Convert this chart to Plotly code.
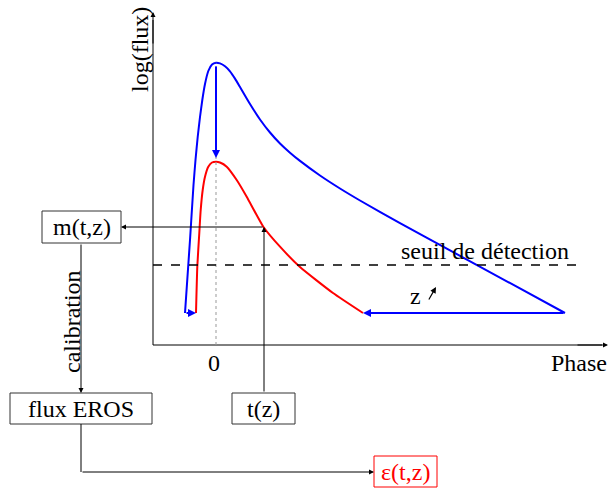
import plotly.graph_objects as go

# light curves: phase (days) vs log(flux) (arbitrary units)
phase_near = [-15.5, -13, -11.25, -10.25, -9.15, -8, -6.85, -5.5, -3.85, -2, 0, 2, 4.5, 7, 9.5,
              12, 17, 22, 27, 32, 37, 42, 52, 62, 72, 92, 117, 174.5]
logflux_near = [3.2, 10.5, 16.0, 18.5, 20.8, 22.8, 24.5, 26.1, 27.4, 28.05, 28.23, 28.16, 27.87, 27.37, 26.64,
                25.8, 24.1, 22.55, 21.25, 20.15, 19.23, 18.41, 16.95, 15.65, 14.45, 12.19, 9.46, 3.2]

phase_far = [-10, -9.35, -8.35, -7.65, -6.65, -5.5, -3.85, -2, 0, 2, 5.35, 10.35, 15.35, 23.65,
             32, 42, 58.5, 73.5]
logflux_far = [3.2, 7.83, 11.2, 13.5, 15.5, 16.83, 17.83, 18.25, 18.33, 18.25, 17.83, 16.5, 14.83, 11.83,
               9.83, 7.8, 5.2, 3.2]

threshold = 8
axis_x0, axis_x1 = -31.5, 196
axis_y1 = 33.3

# flow-chart boxes
box_labels = ["m(t,z)", "flux EROS", "t(z)", "ε(t,z)"]
box_x0 = [-87, -103, 8, 79]
box_x1 = [-47.5, -32, 39.5, 110.5]
box_y0 = [10.2, -7.9, -7.9, -14.2]
box_y1 = [13.4, -4.8, -4.8, -11.1]
box_colors = ["black", "black", "black", "red"]

FONT = "Liberation Serif"
FS = 24
BLUE = "#0000ff"
RED = "#ff0000"

fig = go.Figure()

fig.add_trace(go.Scatter(x=phase_near, y=logflux_near, mode="lines",
                         line=dict(color=BLUE, width=2, shape="spline", smoothing=0.5),
                         hoverinfo="skip"))
fig.add_trace(go.Scatter(x=phase_far, y=logflux_far, mode="lines",
                         line=dict(color=RED, width=2, shape="spline", smoothing=0.5),
                         hoverinfo="skip"))

shapes = []
# axes
shapes.append(dict(type="line", x0=axis_x0, x1=axis_x0, y0=0, y1=axis_y1 - 0.8,
                   line=dict(color="black", width=1)))
shapes.append(dict(type="line", x0=axis_x0, x1=axis_x1 - 3, y0=0, y1=0,
                   line=dict(color="black", width=1)))
# peak phase marker
shapes.append(dict(type="line", x0=0, x1=0, y0=0, y1=max(logflux_near),
                   line=dict(color="#999999", width=1, dash="dot")))
# detection threshold
shapes.append(dict(type="line", x0=axis_x0, x1=180.5, y0=threshold, y1=threshold,
                   line=dict(color="black", width=1.5, dash="dash")))
# boxes
for lab, a, b, c, d, col in zip(box_labels, box_x0, box_x1, box_y0, box_y1, box_colors):
    shapes.append(dict(type="rect", x0=a, x1=b, y0=c, y1=d,
                       line=dict(color=col if col == "red" else "#333333", width=1)))
# connector line without head
shapes.append(dict(type="line", x0=-67.5, x1=-67.5, y0=-7.9, y1=-12.7, line=dict(color="black", width=1)))

annotations = []
for lab, a, b, c, d, col in zip(box_labels, box_x0, box_x1, box_y0, box_y1, box_colors):
    annotations.append(dict(x=(a + b) / 2, y=(c + d) / 2, text=lab, showarrow=False,
                            font=dict(family=FONT, size=FS, color=col)))


def arrow(x_tail, y_tail, x_head, y_head, color="black", width=1, size=1.0):
    annotations.append(dict(x=x_head, y=y_head, ax=x_tail, ay=y_tail,
                            xref="x", yref="y", axref="x", ayref="y",
                            text="", showarrow=True, arrowhead=2, arrowsize=size,
                            arrowwidth=width, arrowcolor=color, standoff=0, startstandoff=0))


# axis arrowheads
arrow(axis_x0, 30, axis_x0, axis_y1)
arrow(180, 0, axis_x1, 0)
# blue arrows
arrow(0, 28.0, 0, 18.7, BLUE, 2, 0.8)
arrow(-15.5, 3.2, -10, 3.2, BLUE, 2, 0.8)
arrow(174.5, 3.2, 73.5, 3.2, BLUE, 2, 0.8)
# z increasing
arrow(106, 4.4, 110, 5.8, "black", 1.2, 1)
# flow chart arrows
arrow(24, -4.8, 24, 11.8)
arrow(24, 11.8, -47.5, 11.8)
arrow(-67.5, 10.2, -67.5, -4.8)
arrow(-67.5, -12.7, 79, -12.7)

texts = [
    dict(x=-38, y=29.5, text="log(flux)", textangle=-90),
    dict(x=181.5, y=-1.8, text="Phase"),
    dict(x=-1, y=-1.8, text="0"),
    dict(x=134.5, y=9.4, text="seuil de détection"),
    dict(x=99.5, y=4.9, text="z"),
    dict(x=-72, y=2.3, text="calibration", textangle=-90),
]
for t in texts:
    annotations.append(dict(showarrow=False, font=dict(family=FONT, size=FS, color="black"), **t))

fig.update_layout(
    width=609, height=488, autosize=False,
    margin=dict(l=0, r=0, t=0, b=0),
    paper_bgcolor="white", plot_bgcolor="white",
    showlegend=False,
    xaxis=dict(range=[-108, 196.5], visible=False, fixedrange=True),
    yaxis=dict(range=[-14.3, 34.5], visible=False, fixedrange=True),
    shapes=shapes, annotations=annotations,
)

# drop the default page margin so the figure fills the window
fig.write_html("out.html", config={"displayModeBar": False},
               post_script="document.body.style.margin='0';")
